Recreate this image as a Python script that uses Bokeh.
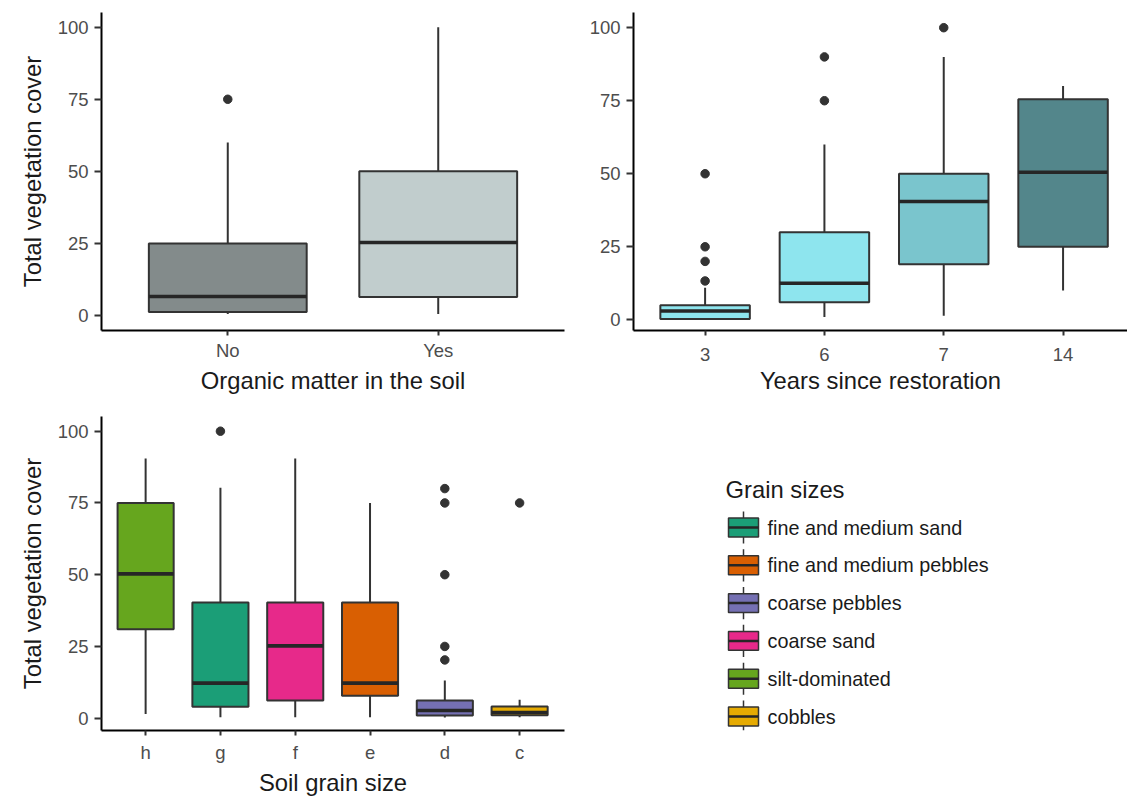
import numpy as np
from bokeh.plotting import figure
from bokeh.layouts import row, column
from bokeh.models import Range1d, FixedTicker, Label
from bokeh.embed import file_html
from bokeh.resources import INLINE
from bokeh.core.properties import value

FONT = "Liberation Sans"

# ---------------- data ----------------
# Panel 1: organic matter
om_cats = ["No", "Yes"]
om_low = [0.5, 0.5]
om_q1 = [1.2, 6.4]
om_med = [6.6, 25.3]
om_q3 = [25, 50]
om_high = [60, 100]
om_colors = ["#838B8B", "#C1CDCD"]
om_out_cat = ["No"]
om_out_val = [75]

# Panel 2: years since restoration
yr_cats = ["3", "6", "7", "14"]
yr_low = [0, 1, 1.4, 10]
yr_q1 = [0.3, 6, 19, 25]
yr_med = [3, 12.5, 40.5, 50.5]
yr_q3 = [5, 30, 50, 75.5]
yr_high = [11, 60, 90, 80]
yr_colors = ["#8EE5EE", "#8EE5EE", "#7AC5CD", "#53868B"]
yr_out_cat = ["3", "3", "3", "3", "6", "6", "7"]
yr_out_val = [50, 25, 20, 13.3, 90, 75, 100]

# Panel 3: soil grain size
gs_cats = ["h", "g", "f", "e", "d", "c"]
gs_groups = ["silt-dominated", "fine and medium sand", "coarse sand",
             "fine and medium pebbles", "coarse pebbles", "cobbles"]
gs_low = [1.5, 0.3, 0.3, 0.3, 0.2, 0.3]
gs_q1 = [31, 4, 6.2, 7.8, 0.9, 1]
gs_med = [50.3, 12.2, 25.2, 12.2, 2.7, 2]
gs_q3 = [75, 40.3, 40.3, 40.3, 6.2, 4.1]
gs_high = [90.5, 80.3, 90.5, 75, 13.1, 6.4]
gs_out_cat = ["g", "d", "d", "d", "d", "d", "c"]
gs_out_val = [100, 80, 75, 50, 25, 20.3, 75]

legend_title = "Grain sizes"
legend_labels = ["fine and medium sand", "fine and medium pebbles", "coarse pebbles",
                 "coarse sand", "silt-dominated", "cobbles"]
legend_colors = ["#1B9E77", "#D95F02", "#7570B3", "#E7298A", "#66A61E", "#E6AB02"]
group_color = dict(zip(legend_labels, legend_colors))
gs_colors = [group_color[g] for g in gs_groups]

y_ticks = [0, 25, 50, 75, 100]

OUTLINE = "#333333"
MEDIAN = "#262626"


def style_axes(p, xlabel, ylabel, x_label_standoff):
    p.grid.visible = False
    p.outline_line_color = None
    p.background_fill_color = "white"
    p.border_fill_color = "white"
    for ax in (p.xaxis[0], p.yaxis[0]):
        ax.axis_line_color = "black"
        ax.axis_line_width = 2
        ax.major_tick_line_color = OUTLINE
        ax.major_tick_line_width = 2
        ax.major_tick_in = 0
        ax.minor_tick_line_color = None
        ax.major_label_text_font = FONT
        ax.major_label_text_font_size = "18.5px"
        ax.major_label_text_color = "#4D4D4D"
        ax.axis_label_text_font = FONT
        ax.axis_label_text_font_size = "23.8px"
        ax.axis_label_text_font_style = "normal"
        ax.axis_label_text_color = "#1A1A1A"
    p.yaxis.major_tick_out = 7
    p.yaxis.major_label_standoff = 6
    p.yaxis.axis_label_standoff = 9
    p.xaxis.major_tick_out = 5
    p.xaxis.major_label_standoff = x_label_standoff
    p.xaxis.axis_label_standoff = 3
    p.yaxis.ticker = FixedTicker(ticks=y_ticks)
    p.xaxis.axis_label = xlabel
    if ylabel:
        p.yaxis.axis_label = ylabel


def box_panel(cats, low, q1, med, q3, high, colors, out_cat, out_val,
              width, height, borders, xr, yr, xlabel, ylabel, x_label_standoff):
    left, right, top, bottom = borders
    p = figure(width=width, height=height, x_range=Range1d(*xr), y_range=Range1d(*yr),
               output_backend="svg", toolbar_location=None,
               min_border_left=left, min_border_right=right,
               min_border_top=top, min_border_bottom=bottom)
    pos = np.arange(1, len(cats) + 1, dtype=float)
    bw = 0.75
    p.segment(x0=pos, y0=q3, x1=pos, y1=high, line_color=OUTLINE, line_width=2)
    p.segment(x0=pos, y0=q1, x1=pos, y1=low, line_color=OUTLINE, line_width=2)
    p.vbar(x=pos, width=bw, bottom=q1, top=q3, fill_color=colors,
           line_color=OUTLINE, line_width=2)
    p.segment(x0=pos - bw / 2, y0=med, x1=pos + bw / 2, y1=med,
              line_color=MEDIAN, line_width=3.6)
    pos_map = dict(zip(cats, pos))
    p.scatter(x=[pos_map[c] for c in out_cat], y=out_val, size=8.5,
              fill_color=OUTLINE, line_color=OUTLINE)
    style_axes(p, xlabel, ylabel, x_label_standoff)
    p.xaxis.ticker = FixedTicker(ticks=[float(v) for v in pos])
    p.xaxis.major_label_overrides = {float(v): c for v, c in zip(pos, cats)}
    return p


# row 1 : frames from y=12 to y=330
p1 = box_panel(om_cats, om_low, om_q1, om_med, om_q3, om_high, om_colors,
               om_out_cat, om_out_val, 578, 404, (101, 14, 12, 74),
               (0.4, 2.6), (-5.2, 105.1), "Organic matter in the soil",
               "Total vegetation cover", 4)

p2 = box_panel(yr_cats, yr_low, yr_q1, yr_med, yr_q3, yr_high, yr_colors,
               yr_out_cat, yr_out_val, 549, 404, (55, 0, 12, 74),
               (0.4, 4.54), (-3.66, 105.2), "Years since restoration", None, 12)

# row 2 : frames from y=416 to y=730
p3 = box_panel(gs_cats, gs_low, gs_q1, gs_med, gs_q3, gs_high, gs_colors,
               gs_out_cat, gs_out_val, 578, 394, (101, 14, 12, 64),
               (0.41, 6.6), (-4.29, 105.12), "Soil grain size",
               "Total vegetation cover", 6)

# ---------------- legend panel ----------------
leg_rows = np.arange(len(legend_labels), dtype=float)
p4 = figure(width=549, height=394, x_range=Range1d(-18, 384),
            y_range=Range1d(5.37, -2.937),
            output_backend="svg", toolbar_location=None,
            min_border_left=147, min_border_right=0,
            min_border_top=12, min_border_bottom=64)
p4.axis.visible = False
p4.grid.visible = False
p4.outline_line_color = None
p4.hbar(y=leg_rows, left=0, right=0, height=0.85, fill_color=None,
        line_color=OUTLINE, line_width=1.5)
p4.hbar(y=leg_rows, left=-15, right=15, height=0.5, fill_color=legend_colors,
        line_color=OUTLINE, line_width=1.5)
p4.hbar(y=leg_rows, left=-15, right=15, height=0, fill_color=None,
        line_color=MEDIAN, line_width=2.5)
p4.text(x=24, y=leg_rows, text=legend_labels, text_font=value(FONT),
        text_font_size="19.8px", text_baseline="middle", text_align="left",
        text_color="#1A1A1A")
p4.add_layout(Label(x=-18, y=-1, text=legend_title, text_font=FONT,
                    text_font_size="23.8px", text_baseline="middle",
                    text_align="left", text_color="#1A1A1A"))

layout = column(row(p1, p2, spacing=0), row(p3, p4, spacing=0), spacing=0)

open("out.html", "w").write(file_html(layout, INLINE))
